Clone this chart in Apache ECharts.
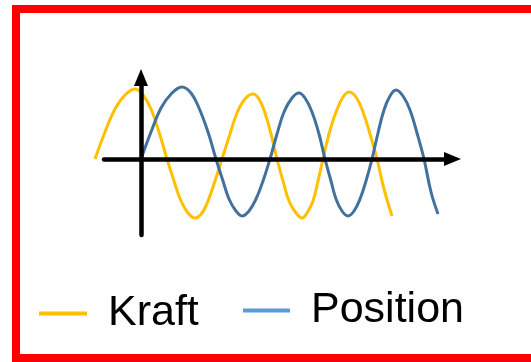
<!DOCTYPE html>
<html lang="de">
<head>
    <meta charset="UTF-8">
    <title>Kraft und Position</title>
    <script src="https://cdn.jsdelivr.net/npm/echarts@6/dist/echarts.min.js"></script>
    <style>
        html, body { margin: 0; padding: 0; background: #fff; }
    </style>
</head>
<body>
<div id="main" style="width: 531px;height:362px;"></div>
<script>
    // Werte: [x, y], Ursprung = Achsenkreuz
    var kraftX = [-46, -36, -26, -16, -6, 2, 10, 18, 26, 33, 40, 47, 54, 61, 67, 74, 81, 89, 96, 104, 112, 118, 124, 130, 136,
        142, 148, 155, 161, 166, 172, 177, 182, 188, 195, 202, 208, 215, 222, 229, 236, 243, 251];
    var kraftY = [0, 27, 50, 64, 70, 64, 50, 27, 0, -22, -42, -54, -59, -54, -42, -22, 0, 25, 46, 60, 65, 60, 46, 25, 0,
        -22, -42, -54, -59, -54, -42, -22, 0, 25, 47, 62, 67, 62, 47, 25, 0, -30, -57];

    var positionX = [0, 10, 20, 31, 41, 50, 58, 67, 75, 82, 88, 95, 101, 108, 115, 122, 129, 136, 143, 151, 158, 164, 171, 178, 184,
        190, 195, 201, 207, 213, 219, 225, 231, 237, 243, 249, 255, 262, 269, 276, 283, 290, 297];
    var positionY = [0, 27, 51, 66, 72, 66, 51, 27, 0, -22, -40, -52, -57, -52, -40, -22, 0, 25, 47, 61, 66, 61, 47, 25, 0,
        -22, -40, -52, -57, -52, -40, -22, 0, 26, 49, 63, 69, 63, 49, 26, 0, -33, -55];

    var names = ['Kraft', 'Position'];

    function pairs(xs, ys) {
        var out = [];
        for (var i = 0; i < xs.length; i++) {
            out.push([xs[i], ys[i]]);
        }
        return out;
    }

    var myChart = echarts.init(document.getElementById('main'));

    var hidden = {
        axisLine: {show: false},
        axisTick: {show: false},
        axisLabel: {show: false},
        splitLine: {show: false}
    };
    var arrowLine = {
        show: true,
        onZero: true,
        symbol: ['none', 'triangle'],
        symbolSize: [14, 17],
        lineStyle: {color: '#000', width: 4.5}
    };

    var option = {
        backgroundColor: '#fff',
        animation: false,
        // grid 0: Kurven, grid 1: Achsenkreuz mit Pfeilen
        grid: [
            {left: 91, top: 60, width: 370, height: 180},
            {left: 104, top: 77.5, width: 348.5, height: 157.5}
        ],
        xAxis: [
            Object.assign({type: 'value', gridIndex: 0, min: -50, max: 320}, hidden),
            {
                type: 'value', gridIndex: 1, min: -37, max: 311.5, z: 10,
                axisLine: arrowLine,
                axisTick: {show: false}, axisLabel: {show: false}, splitLine: {show: false}
            }
        ],
        yAxis: [
            Object.assign({type: 'value', gridIndex: 0, min: -81, max: 99}, hidden),
            {
                type: 'value', gridIndex: 1, min: -76, max: 81.5, z: 10,
                axisLine: arrowLine,
                axisTick: {show: false}, axisLabel: {show: false}, splitLine: {show: false}
            }
        ],
        legend: [
            {
                data: [{name: names[0], itemStyle: {color: '#FFC000'}}],
                left: 39, top: 292, padding: 0,
                icon: 'rect', itemWidth: 48, itemHeight: 4,
                textStyle: {fontFamily: 'Liberation Sans', fontSize: 43, color: '#000', padding: [0, 0, 0, 16]}
            },
            {
                data: [{name: names[1], itemStyle: {color: '#5B9BD5'}}],
                left: 243, top: 289, padding: 0,
                icon: 'rect', itemWidth: 47, itemHeight: 4,
                textStyle: {fontFamily: 'Liberation Sans', fontSize: 43, color: '#000', padding: [0, 0, 0, 16]}
            }
        ],
        graphic: [{
            type: 'rect',
            shape: {x: 16, y: 9, width: 560, height: 349},
            style: {fill: 'none', stroke: '#FF0000', lineWidth: 8},
            z: 100
        }],
        series: [
            {
                name: names[0], type: 'line', xAxisIndex: 0, yAxisIndex: 0,
                smooth: 0.4, showSymbol: false,
                lineStyle: {color: '#FFC000', width: 3},
                itemStyle: {color: '#FFC000'},
                data: pairs(kraftX, kraftY)
            },
            {
                name: names[1], type: 'line', xAxisIndex: 0, yAxisIndex: 0,
                smooth: 0.4, showSymbol: false,
                lineStyle: {color: '#41719C', width: 3},
                itemStyle: {color: '#41719C'},
                data: pairs(positionX, positionY)
            }
        ]
    };

    myChart.setOption(option);
</script>
</body>
</html>
